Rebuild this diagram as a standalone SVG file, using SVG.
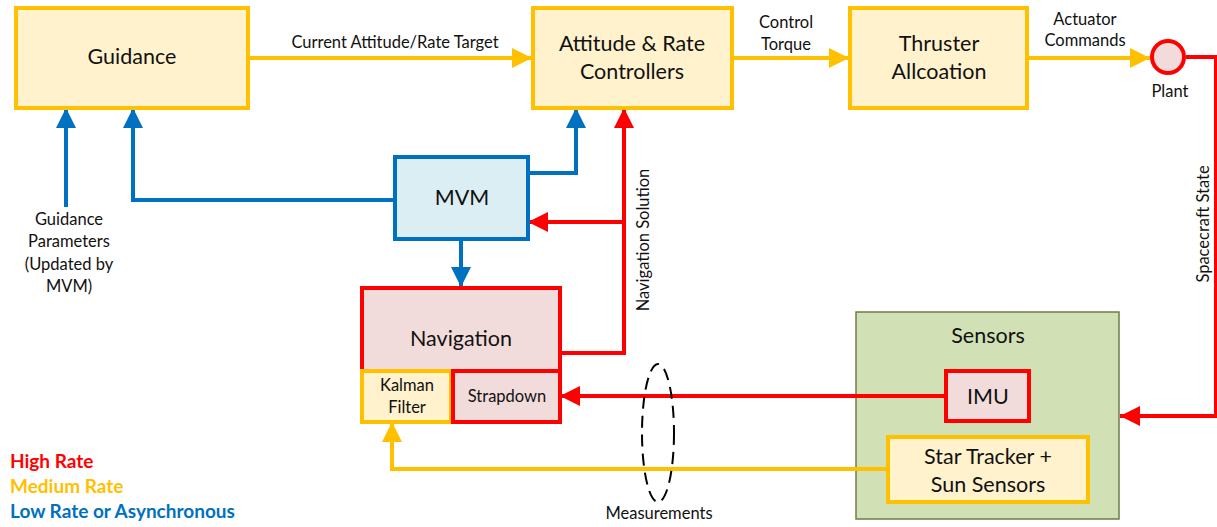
<svg xmlns="http://www.w3.org/2000/svg" width="1217" height="527" viewBox="0 0 1217 527">
<defs>
<style>
.t{font-family:"Lato","Liberation Sans",sans-serif;fill:#111;text-anchor:middle}
.big{font-size:21.5px}
.sm{font-size:16.5px}
.ybox{fill:#FFF2CC;stroke:#FFC000;stroke-width:4}
.rbox{fill:#F2DCDB;stroke:#FF0000;stroke-width:4}
.bbox{fill:#DAEEF3;stroke:#0070C0;stroke-width:4}
.c{fill:none;stroke-width:4;stroke-linejoin:miter}
.y{stroke:#FFC000}
.r{stroke:#FF0000}
.b{stroke:#0070C0}
.leg{font-family:"Lato","Liberation Sans",sans-serif;font-size:19px;font-weight:bold}
</style>
<marker id="ay" markerUnits="userSpaceOnUse" markerWidth="20" markerHeight="20" refX="20" refY="10" orient="auto" viewBox="0 0 20 20"><path d="M0,0 L20,10 L0,20 z" fill="#FFC000"/></marker>
<marker id="ar" markerUnits="userSpaceOnUse" markerWidth="20" markerHeight="20" refX="20" refY="10" orient="auto" viewBox="0 0 20 20"><path d="M0,0 L20,10 L0,20 z" fill="#FF0000"/></marker>
<marker id="ab" markerUnits="userSpaceOnUse" markerWidth="20" markerHeight="20" refX="20" refY="10" orient="auto" viewBox="0 0 20 20"><path d="M0,0 L20,10 L0,20 z" fill="#0070C0"/></marker>
</defs>
<rect width="1217" height="527" fill="#fff"/>

<g id="sensors">
<rect x="856" y="312" width="263" height="207" fill="#D1E0B5" stroke="#6B7F45" stroke-width="1.5"/>
<text class="t big" x="988" y="343">Sensors</text>
</g>

<g id="connectors">
<path class="c y" d="M248,58 H532" marker-end="url(#ay)"/>
<path class="c y" d="M732,58 H849" marker-end="url(#ay)"/>
<path class="c y" d="M1027,58 H1150" marker-end="url(#ay)"/>
<path class="c r" d="M1186,57 H1216 V416 H1120" marker-end="url(#ar)"/>
<path class="c b" d="M395,200 H133 V108" marker-end="url(#ab)"/>
<path class="c b" d="M66,207 V108" marker-end="url(#ab)"/>
<path class="c b" d="M528,173 H576 V108" marker-end="url(#ab)"/>
<path class="c b" d="M461,239 V287" marker-end="url(#ab)"/>
<path class="c r" d="M560,353 H624 V108" marker-end="url(#ar)"/>
<path class="c r" d="M624,222 H528" marker-end="url(#ar)"/>
<path class="c r" d="M946,396 H560" marker-end="url(#ar)"/>
<path class="c y" d="M888,469 H392 V422" marker-end="url(#ay)"/>
<ellipse cx="658" cy="433" rx="16" ry="69" fill="none" stroke="#000" stroke-width="2" stroke-dasharray="12,7"/>
<text class="t sm" x="395" y="48">Current Attitude/Rate Target</text>
<text class="t sm" x="786" y="28">Control</text>
<text class="t sm" x="786" y="50">Torque</text>
<text class="t sm" x="1085" y="25">Actuator</text>
<text class="t sm" x="1085" y="46">Commands</text>
<text class="t sm" transform="translate(649,240) rotate(-90)">Navigation Solution</text>
<text class="t sm" transform="translate(1209,224) rotate(-90)">Spacecraft State</text>
<text class="t sm" x="659" y="519">Measurements</text>
<text class="t sm" x="69" y="225">Guidance</text>
<text class="t sm" x="69" y="247">Parameters</text>
<text class="t sm" x="69" y="270">(Updated by</text>
<text class="t sm" x="69" y="292">MVM)</text>
</g>

<g id="guidance">
<rect class="ybox" x="16" y="8" width="232" height="100"/>
<text class="t big" x="132" y="64">Guidance</text>
</g>
<g id="attitude">
<rect class="ybox" x="533" y="8" width="199" height="100"/>
<text class="t big" x="632" y="51">Attitude &amp; Rate</text>
<text class="t big" x="632" y="79">Controllers</text>
</g>
<g id="thruster">
<rect class="ybox" x="850" y="8" width="177" height="100"/>
<text class="t big" x="939" y="51">Thruster</text>
<text class="t big" x="939" y="79">Allcoation</text>
</g>
<g id="plant">
<circle cx="1168" cy="57" r="16" fill="#F2DCDB" stroke="#FF0000" stroke-width="4"/>
<text class="t sm" x="1170" y="97">Plant</text>
</g>
<g id="mvm">
<rect class="bbox" x="395" y="157" width="133" height="82"/>
<text class="t big" x="462" y="205">MVM</text>
</g>
<g id="navigation">
<rect class="rbox" x="362" y="288" width="198" height="134"/>
<text class="t big" x="461" y="346">Navigation</text>
</g>
<g id="kalman">
<rect class="ybox" x="362" y="371" width="89" height="51"/>
<text class="t sm" x="407" y="391">Kalman</text>
<text class="t sm" x="407" y="413">Filter</text>
</g>
<g id="strapdown">
<rect class="rbox" x="453" y="371" width="107" height="51"/>
<text class="t sm" x="507" y="402">Strapdown</text>
</g>
<g id="imu">
<rect class="rbox" x="946" y="371" width="83" height="50"/>
<text class="t big" x="988" y="404">IMU</text>
</g>
<g id="startracker">
<rect class="ybox" x="888" y="437" width="200" height="65"/>
<text class="t big" x="988" y="464">Star Tracker +</text>
<text class="t big" x="988" y="492">Sun Sensors</text>
</g>
<g id="legend">
<text class="leg" x="10" y="468" fill="#FF0000">High Rate</text>
<text class="leg" x="10" y="493" fill="#FFC000">Medium Rate</text>
<text class="leg" x="10" y="518" fill="#0070C0">Low Rate or Asynchronous</text>
</g>
</svg>
